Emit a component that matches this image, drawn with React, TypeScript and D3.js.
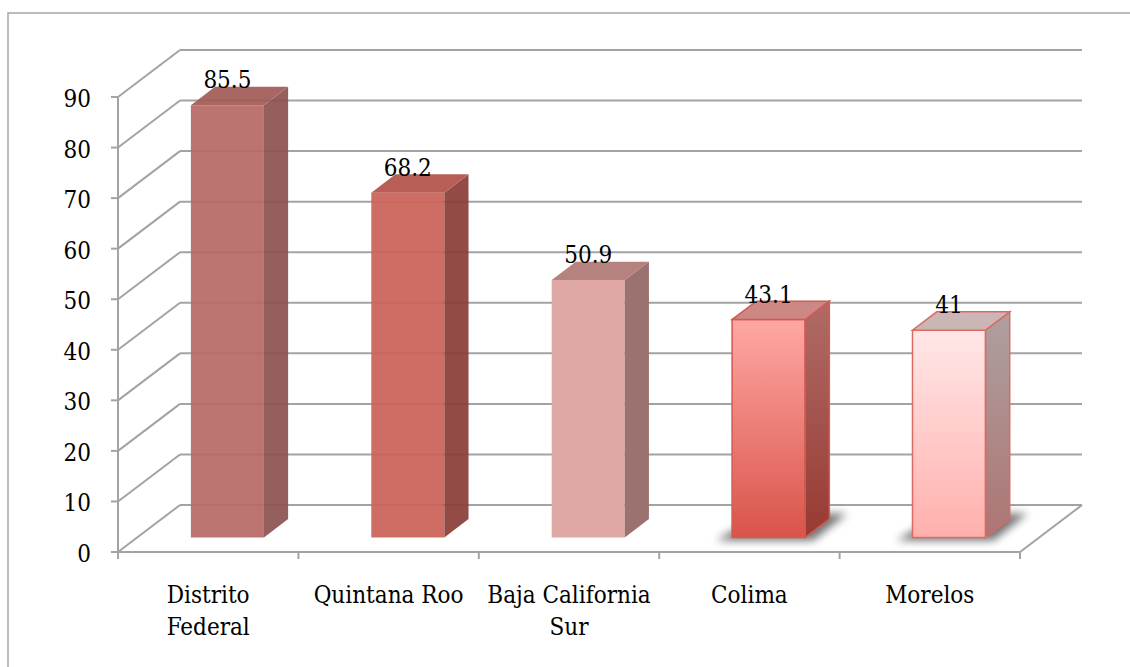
import React from "react";
import * as d3 from "d3";

const categories = ["Distrito Federal", "Quintana Roo", "Baja California Sur", "Colima", "Morelos"];
const categoryLines = [["Distrito", "Federal"], ["Quintana Roo"], ["Baja California", "Sur"], ["Colima"], ["Morelos"]];
const values = [85.5, 68.2, 50.9, 43.1, 41];
const yTicks = [0, 10, 20, 30, 40, 50, 60, 70, 80, 90];

const palette = [
  { front: "#b76a66", side: "#8c5350", top: "#a25c57", opacity: 0.93 },
  { front: "#cb6359", side: "#8a3f38", top: "#b4524a", opacity: 0.93 },
  { front: "#dfa8a4", side: "#9c7271", top: "#b5827f", opacity: 1 },
  { front: "url(#g4f)", side: "url(#g4s)", top: "#cd8784", stroke: "#d25a50", shadow: true, opacity: 1 },
  { front: "url(#g5f)", side: "url(#g5s)", top: "#cbb6b6", stroke: "#db6a62", shadow: true, opacity: 1 },
];

const W = 1130, H = 667;
const DX = 62, DY = 47;
const D0 = 0.31, D1 = 0.7;
const FONT = "'DejaVu Serif Condensed', 'DejaVu Serif', serif";
const FS = 24;
const GRID = "#a3a3a3";

export default function App() {
  const y = d3.scaleLinear().domain([0, 90]).range([552, 97]);
  const x = d3.scaleBand<string>().domain(categories).range([118, 1020]).padding(0);
  const bw = x.bandwidth();
  const barW = bw * 0.405;
  const proj = (px: number, v: number, d: number): [number, number] => [px + d * DX, y(v) - d * DY];
  const pts = (arr: [number, number][]) => arr.map((p) => p.join(",")).join(" ");
  const x0 = x.range()[0], x1 = x.range()[1];
  const textStyle = { fontFamily: FONT, fontSize: FS, fontStretch: "condensed" as const };

  return (
    <svg width={W} height={H} style={{ position: "absolute", left: 0, top: 0, background: "#fff" }}>
      <defs>
        <linearGradient id="g4f" x1="0" y1="0" x2="0" y2="1">
          <stop offset="0" stopColor="#ffa7a4" />
          <stop offset="1" stopColor="#d9544a" />
        </linearGradient>
        <linearGradient id="g4s" x1="0" y1="0" x2="0" y2="1">
          <stop offset="0" stopColor="#b06b67" />
          <stop offset="1" stopColor="#973a32" />
        </linearGradient>
        <linearGradient id="g5f" x1="0" y1="0" x2="0" y2="1">
          <stop offset="0" stopColor="#ffe7e7" />
          <stop offset="1" stopColor="#ffb0ad" />
        </linearGradient>
        <linearGradient id="g5s" x1="0" y1="0" x2="0" y2="1">
          <stop offset="0" stopColor="#aea0a0" />
          <stop offset="1" stopColor="#ad7573" />
        </linearGradient>
        <filter id="blur" x="-30%" y="-100%" width="160%" height="300%">
          <feGaussianBlur stdDeviation="4" />
        </filter>
      </defs>
      <rect x={8} y={13} width={1140} height={700} fill="none" stroke="#a6a6a6" strokeWidth={1.5} />

      {yTicks.map((t) => {
        const [bx, by] = proj(x0, t, 1);
        const [ex] = proj(x1, t, 1);
        return (
          <g key={t}>
            <line x1={x0} y1={y(t)} x2={bx} y2={by} stroke={GRID} strokeWidth={2} />
            <line x1={bx} y1={by} x2={ex} y2={by} stroke={GRID} strokeWidth={2} />
          </g>
        );
      })}
      <line x1={x0} y1={y(0)} x2={x1} y2={y(0)} stroke={GRID} strokeWidth={2} />
      <line x1={x1} y1={y(0)} x2={proj(x1, 0, 1)[0]} y2={proj(x1, 0, 1)[1]} stroke={GRID} strokeWidth={2} />
      <line x1={x0} y1={y(90)} x2={x0} y2={y(0)} stroke={GRID} strokeWidth={2} />
      {yTicks.map((t) => (
        <g key={"t" + t}>
          <line x1={x0 - 7} y1={y(t)} x2={x0} y2={y(t)} stroke={GRID} strokeWidth={2} />
          <text x={91} y={y(t) + 10} textAnchor="end" style={textStyle} fill="#000">
            {t}
          </text>
        </g>
      ))}
      {[...categories.map((c) => x(c) as number), x1].map((tx, i) => (
        <line key={"ct" + i} x1={tx} y1={y(0)} x2={tx} y2={y(0) + 7} stroke={GRID} strokeWidth={2} />
      ))}
      {categoryLines.map((lines, i) => (
        <text key={"cl" + i} textAnchor="middle" style={textStyle} fill="#000">
          {lines.map((l, j) => (
            <tspan key={j} x={(x(categories[i]) as number) + bw / 2} y={603 + j * 32}>
              {l}
            </tspan>
          ))}
        </text>
      ))}

      {values.map((v, i) => {
        const st = palette[i];
        const xl = (x(categories[i]) as number) + (bw - barW) / 2;
        const xr = xl + barW;
        const front: [number, number][] = [proj(xl, 0, D0), proj(xr, 0, D0), proj(xr, v, D0), proj(xl, v, D0)];
        const side: [number, number][] = [proj(xr, 0, D0), proj(xr, 0, D1), proj(xr, v, D1), proj(xr, v, D0)];
        const top: [number, number][] = [proj(xl, v, D0), proj(xr, v, D0), proj(xr, v, D1), proj(xl, v, D1)];
        const [fx, fy] = proj(xl, 0, D0);
        const shadow: [number, number][] = [
          [fx - 16, fy + 3],
          [fx + barW + 8, fy + 3],
          [fx + barW + 42, fy - 24],
          [fx + 30, fy - 24],
        ];
        const labelX = (proj(xl, v, D0)[0] + proj(xr, v, D0)[0]) / 2;
        const labelY = proj(xl, v, D0)[1] - 17;
        return (
          <g key={"b" + i}>
            {st.shadow && <polygon points={pts(shadow)} fill="#000" opacity={0.55} filter="url(#blur)" />}
            <g opacity={st.opacity}>
              <polygon points={pts(front)} fill={st.front} stroke={st.stroke || "none"} strokeWidth={1.5} />
              <polygon points={pts(side)} fill={st.side} stroke={st.stroke || "none"} strokeWidth={1.5} />
              <polygon points={pts(top)} fill={st.top} stroke={st.stroke || "none"} strokeWidth={1.5} />
            </g>
            <text x={labelX} y={labelY} textAnchor="middle" style={textStyle} fill="#000">
              {v}
            </text>
          </g>
        );
      })}
    </svg>
  );
}
